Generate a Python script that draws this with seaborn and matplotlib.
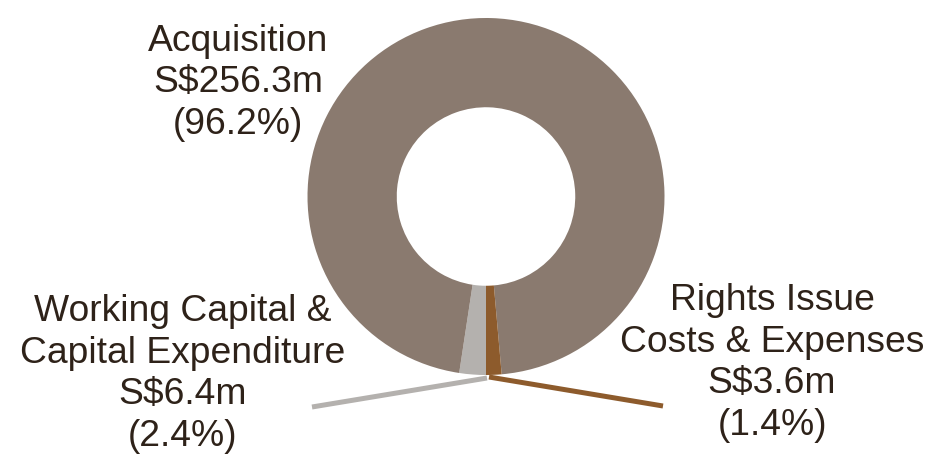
import matplotlib
matplotlib.use("Agg")
import matplotlib.pyplot as plt
import seaborn as sns

# Data
categories = ["Working Capital &\nCapital Expenditure", "Acquisition", "Rights Issue\nCosts & Expenses"]
amounts = [6.4, 256.3, 3.6]
shares = [2.4, 96.2, 1.4]
amount_labels = ["S$6.4m", "S$256.3m", "S$3.6m"]
share_labels = ["(2.4%)", "(96.2%)", "(1.4%)"]
colors = ["#B4B1AE", "#8A7A6F", "#8D5B2C"]

sns.set_theme(style="white")
plt.rcParams["font.family"] = ["Liberation Sans", "DejaVu Sans"]

W, H = 932, 458
fig = plt.figure(figsize=(W / 100, H / 100), dpi=100)
ax = fig.add_axes([0, 0, 1, 1])

cx, cy, r = 486, H - 196.5, 178.5
ax.pie(shares, colors=colors, startangle=-90, counterclock=False,
       center=(cx, cy), radius=r, frame=True,
       wedgeprops=dict(width=r * 0.5, linewidth=0))
ax.set_xlim(0, W)
ax.set_ylim(0, H)
ax.set_aspect("equal")
ax.axis("off")

# leader lines
ax.plot([487, 312], [H - 378, H - 407], color=colors[0], lw=3.6, solid_capstyle="butt")
ax.plot([489, 663], [H - 377, H - 406], color=colors[2], lw=3.6, solid_capstyle="butt")

txt_color = "#2E2219"
fs = 26.8
label_pos = {
    0: (183, H - 374),
    1: (238, H - 83),
    2: (772, H - 363),
}
for i, cat in enumerate(categories):
    x, y = label_pos[i]
    s = f"{cat}\n{amount_labels[i]}\n{share_labels[i]}"
    ax.text(x, y, s, ha="center", va="center", fontsize=fs, color=txt_color,
            linespacing=1.25)

fig.savefig("out.png", dpi=100, facecolor="white")
